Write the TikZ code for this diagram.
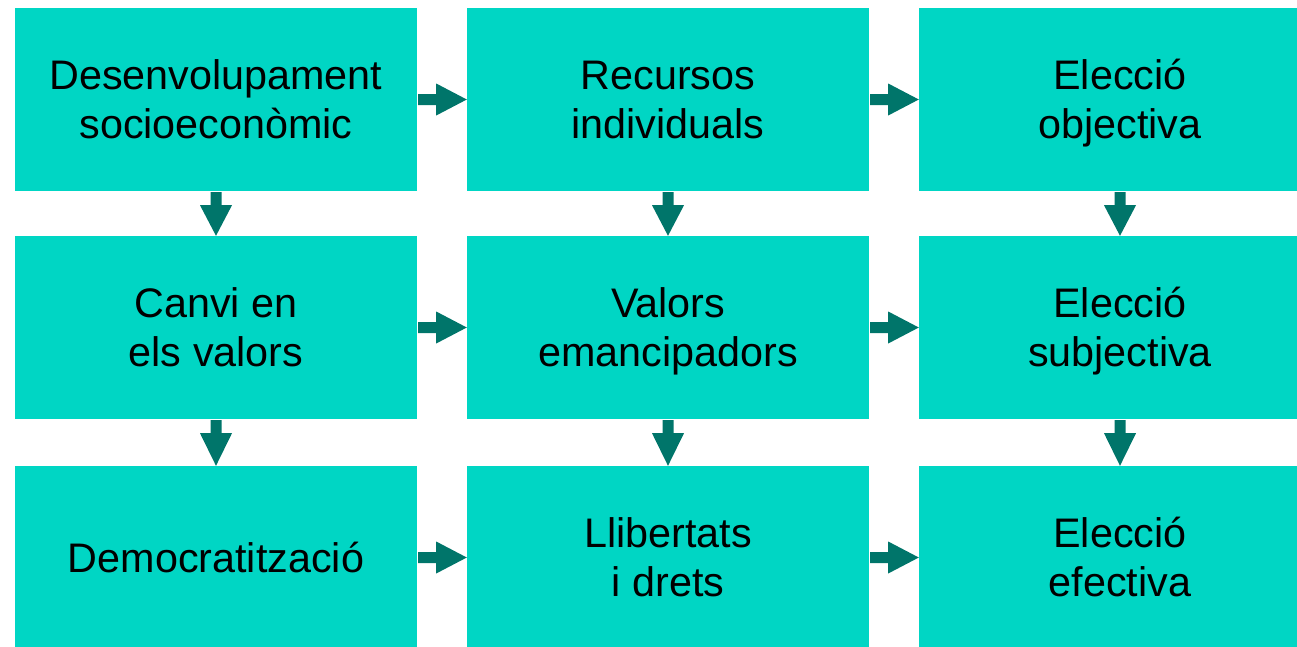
\documentclass[tikz,border=0pt]{standalone}
\usepackage{fontspec}
\setmainfont{Liberation Sans}
\usetikzlibrary{calc}
\definecolor{boxc}{HTML}{00D6C4}
\definecolor{arrc}{HTML}{00756A}
\newcommand{\ls}{\rule[-9pt]{0pt}{47pt}}
\tikzset{
  stepbox/.style={rectangle, fill=boxc, draw=none, minimum width=402pt, minimum height=183pt, inner sep=0pt, align=center, font=\fontsize{41.3}{49}\selectfont},
  arr/.style={fill=arrc, draw=none}
}
\newcommand{\rarrow}[2]{\fill[arr] ($(#1.east)+(1,-5.5)$) -- ($(#1.east)+(19,-5.5)$) -- ($(#1.east)+(19,-16)$) -- (#2.west) -- ($(#1.east)+(19,16)$) -- ($(#1.east)+(19,5.5)$) -- ($(#1.east)+(1,5.5)$) -- cycle;}
\newcommand{\darrow}[2]{\fill[arr] ($(#1.south)+(-5.5,1)$) -- ($(#1.south)+(-5.5,14)$) -- ($(#1.south)+(-16,14)$) -- (#2.north) -- ($(#1.south)+(16,14)$) -- ($(#1.south)+(5.5,14)$) -- ($(#1.south)+(5.5,1)$) -- cycle;}
\begin{document}
\begin{tikzpicture}[x=1pt,y=-1pt]
\useasboundingbox (0,0) rectangle (1297,646);
\node[stepbox] (a1) at (216,99.5) {\ls Desenvolupament\\\ls socioeconòmic};
\node[stepbox] (a2) at (668,99.5) {\ls Recursos\\\ls individuals};
\node[stepbox] (a3) at (1120,99.5) {\ls Elecció\\\ls objectiva};
\node[stepbox] (b1) at (216,327.5) {\ls Canvi en\\\ls els valors};
\node[stepbox] (b2) at (668,327.5) {\ls Valors\\\ls emancipadors};
\node[stepbox] (b3) at (1120,327.5) {\ls Elecció\\\ls subjectiva};
\node[stepbox] (c1) at (216,557.5) {\ls Democratització};
\node[stepbox] (c2) at (668,557.5) {\ls Llibertats\\\ls i drets};
\node[stepbox] (c3) at (1120,557.5) {\ls Elecció\\\ls efectiva};
\rarrow{a1}{a2}
\rarrow{a2}{a3}
\rarrow{b1}{b2}
\rarrow{b2}{b3}
\rarrow{c1}{c2}
\rarrow{c2}{c3}
\darrow{a1}{b1}
\darrow{a2}{b2}
\darrow{a3}{b3}
\darrow{b1}{c1}
\darrow{b2}{c2}
\darrow{b3}{c3}
\end{tikzpicture}
\end{document}
